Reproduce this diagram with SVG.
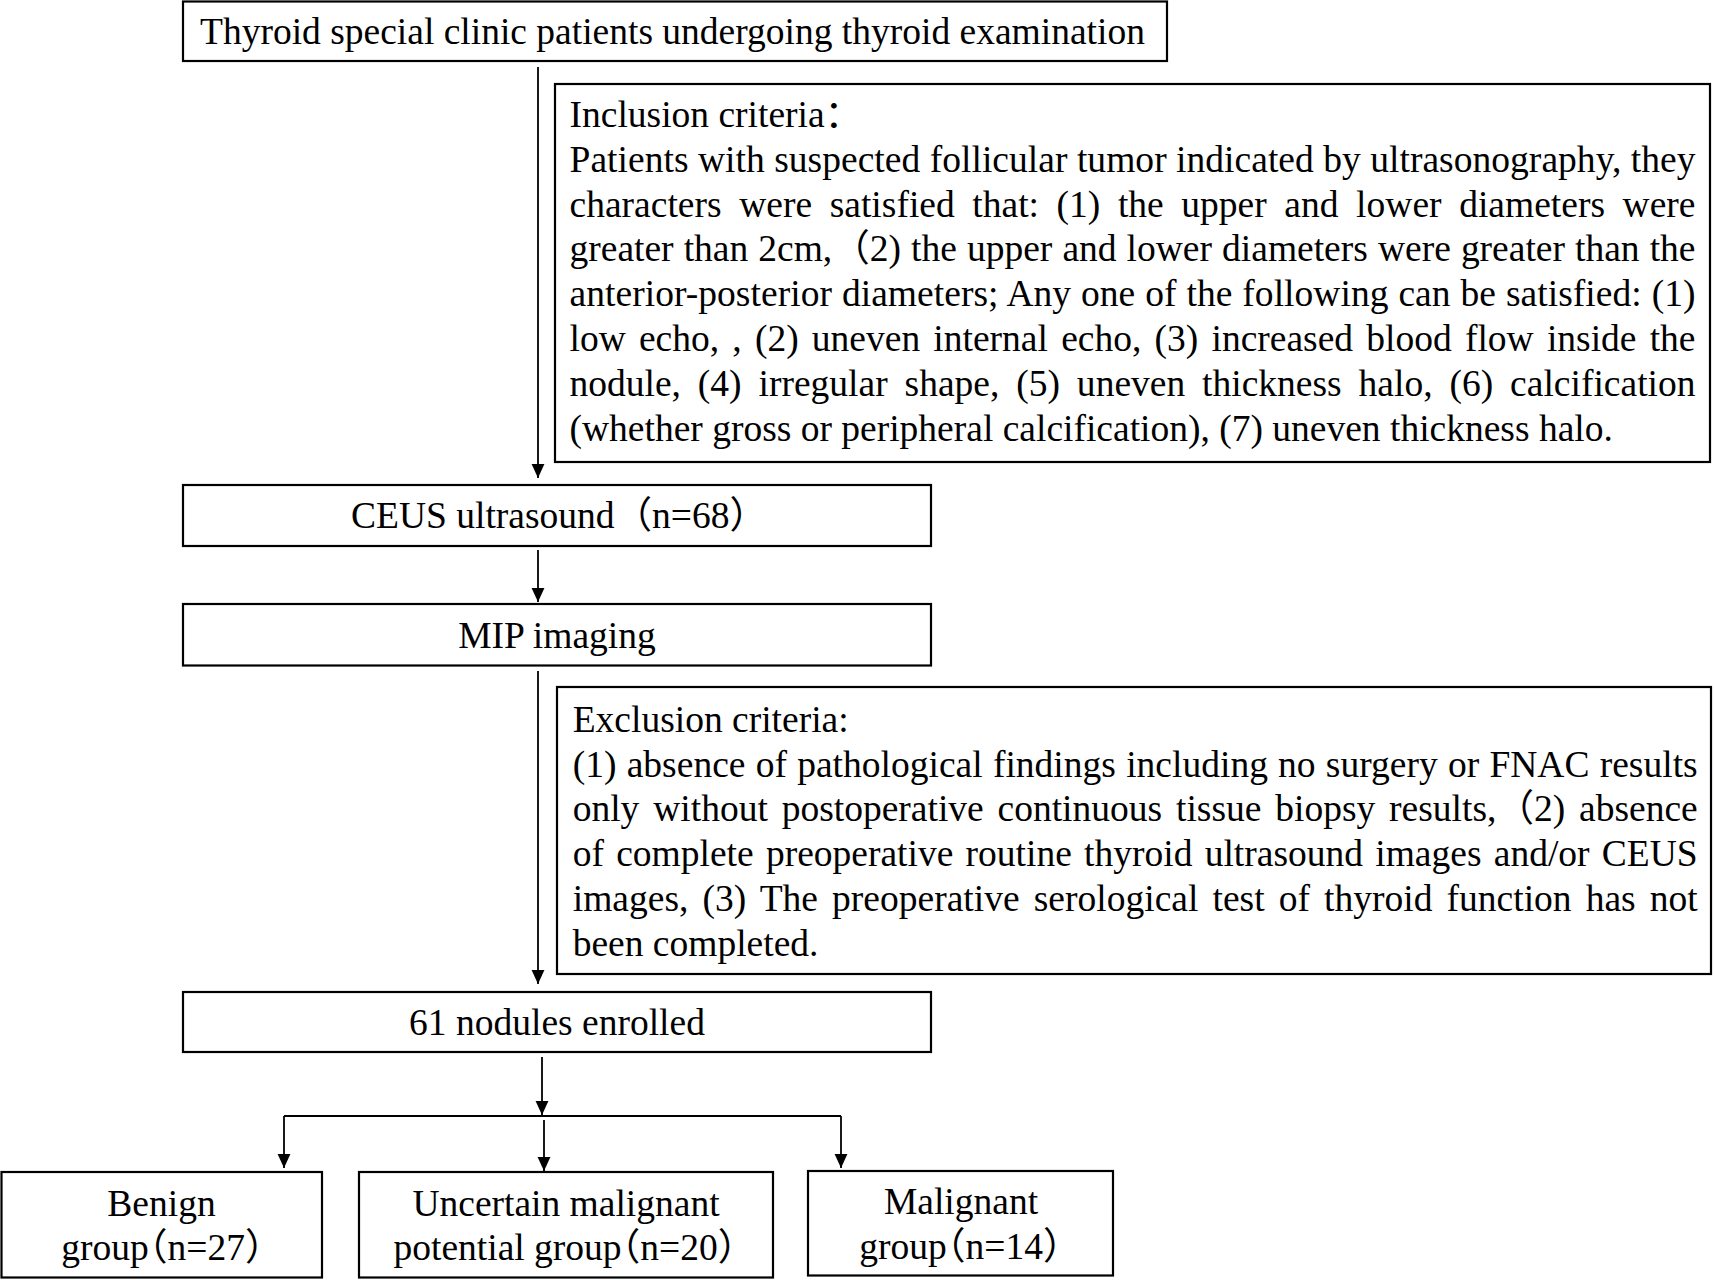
<svg xmlns="http://www.w3.org/2000/svg" width="1714" height="1280" viewBox="0 0 1714 1280">
<defs>
<marker id="ah" markerUnits="userSpaceOnUse" markerWidth="14" markerHeight="14" viewBox="0 0 12 12" refX="12" refY="6" orient="auto">
<path d="M0,0.5 L12,6 L0,11.5 Z" fill="#000"/>
</marker>
<style>
.box{fill:#fff;stroke:#000;stroke-width:2.2}
.t{font-family:"Liberation Serif","Noto Sans CJK SC",serif;font-size:37.5px;fill:#000}
.c{text-anchor:middle}
.h{font-feature-settings:"halt" 1}
.ln{fill:none;stroke:#000;stroke-width:1.8}
</style>
</defs>
<rect width="1714" height="1280" fill="#fff"/>
<g id="connectors">
<line class="ln" x1="538" y1="67" x2="538" y2="478" marker-end="url(#ah)"/>
<line class="ln" x1="538" y1="550" x2="538" y2="602" marker-end="url(#ah)"/>
<line class="ln" x1="538" y1="671" x2="538" y2="984" marker-end="url(#ah)"/>
<line class="ln" x1="542" y1="1057" x2="542" y2="1115" marker-end="url(#ah)"/>
<line class="ln" x1="284" y1="1116" x2="841" y2="1116"/>
<line class="ln" x1="284" y1="1116" x2="284" y2="1168" marker-end="url(#ah)"/>
<line class="ln" x1="544" y1="1120" x2="544" y2="1171" marker-end="url(#ah)"/>
<line class="ln" x1="841" y1="1116" x2="841" y2="1168" marker-end="url(#ah)"/>
</g>
<g id="start">
<rect class="box" x="183" y="1.5" width="984" height="59.5"/>
<text class="t" x="200" y="44">Thyroid special clinic patients undergoing thyroid examination</text>
</g>
<g id="inclusion">
<rect class="box" x="555" y="84" width="1155" height="378"/>
<text class="t" x="569.5" y="127">Inclusion criteria：</text>
<text class="t" x="569.5" y="171.8" textLength="1126" lengthAdjust="spacing">Patients with suspected follicular tumor indicated by ultrasonography, they</text>
<text class="t" x="569.5" y="216.6" word-spacing="8.2" textLength="1126" lengthAdjust="spacing">characters were satisfied that: (1) the upper and lower diameters were</text>
<text class="t" x="569.5" y="261.4" word-spacing="0.7" textLength="1126" lengthAdjust="spacing">greater than 2cm,（2) the upper and lower diameters were greater than the</text>
<text class="t" x="569.5" y="306.2" word-spacing="0.5" textLength="1126" lengthAdjust="spacing">anterior-posterior diameters; Any one of the following can be satisfied: (1)</text>
<text class="t" x="569.5" y="351" word-spacing="3.8" textLength="1126" lengthAdjust="spacing">low echo, , (2) uneven internal echo, (3) increased blood flow inside the</text>
<text class="t" x="569.5" y="395.8" word-spacing="7.5" textLength="1126" lengthAdjust="spacing">nodule, (4) irregular shape, (5) uneven thickness halo, (6) calcification</text>
<text class="t" x="569.5" y="440.6">(whether gross or peripheral calcification), (7) uneven thickness halo.</text>
</g>
<g id="ceus">
<rect class="box" x="183" y="485" width="748" height="61"/>
<text class="t c" x="559" y="528">CEUS ultrasound（n=68）</text>
</g>
<g id="mip">
<rect class="box" x="183" y="604" width="748" height="61.5"/>
<text class="t c" x="557" y="648">MIP imaging</text>
</g>
<g id="exclusion">
<rect class="box" x="557" y="687" width="1154" height="287"/>
<text class="t" x="572.7" y="731.7">Exclusion criteria:</text>
<text class="t" x="572.7" y="776.5" word-spacing="0.8" textLength="1125" lengthAdjust="spacing">(1) absence of pathological findings including no surgery or FNAC results</text>
<text class="t" x="572.7" y="821.3" word-spacing="4.5" textLength="1125" lengthAdjust="spacing">only without postoperative continuous tissue biopsy results,（2) absence</text>
<text class="t" x="572.7" y="866.1" word-spacing="2.9" textLength="1125" lengthAdjust="spacing">of complete preoperative routine thyroid ultrasound images and/or CEUS</text>
<text class="t" x="572.7" y="910.9" word-spacing="4.7" textLength="1125" lengthAdjust="spacing">images, (3) The preoperative serological test of thyroid function has not</text>
<text class="t" x="572.7" y="955.7">been completed.</text>
</g>
<g id="enrolled">
<rect class="box" x="183" y="992" width="748" height="60"/>
<text class="t c" x="557" y="1035">61 nodules enrolled</text>
</g>
<g id="benign">
<rect class="box" x="1.5" y="1172" width="320.5" height="105.5"/>
<text class="t c" x="161.5" y="1215.5">Benign</text>
<text class="t c h" x="162.5" y="1260">group（n=27）</text>
</g>
<g id="uncertain">
<rect class="box" x="359" y="1172" width="414" height="105.5"/>
<text class="t c" x="566" y="1215.5">Uncertain malignant</text>
<text class="t c h" x="565" y="1260">potential group（n=20）</text>
</g>
<g id="malignant">
<rect class="box" x="808" y="1171" width="305" height="104.5"/>
<text class="t c" x="961" y="1213.5">Malignant</text>
<text class="t c h" x="960.5" y="1259">group（n=14）</text>
</g>
</svg>
